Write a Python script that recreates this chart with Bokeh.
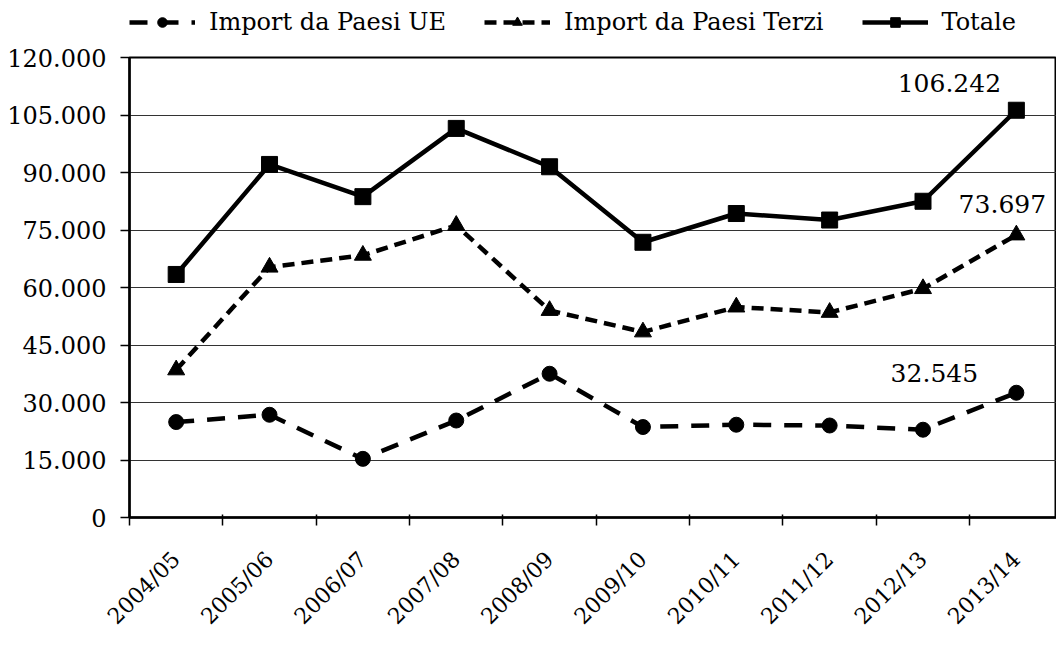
import math
from bokeh.plotting import figure
from bokeh.layouts import column
from bokeh.models import (ColumnDataSource, Range1d, FixedTicker, Legend, LegendItem)
from bokeh.core.properties import value
from bokeh.embed import file_html
from bokeh.resources import INLINE

categories = ["2004/05", "2005/06", "2006/07", "2007/08", "2008/09",
              "2009/10", "2010/11", "2011/12", "2012/13", "2013/14"]
ue = [24900, 26800, 15300, 25300, 37500, 23600, 24200, 24000, 22900, 32545]
terzi = [38500, 65300, 68400, 76200, 54000, 48400, 54900, 53500, 59700, 73697]
totale = [63400, 92100, 83700, 101500, 91500, 71800, 79300, 77600, 82500, 106242]

y_ticks = [0, 15000, 30000, 45000, 60000, 75000, 90000, 105000, 120000]
y_tick_labels = ["0", "15.000", "30.000", "45.000", "60.000", "75.000",
                 "90.000", "105.000", "120.000"]

FONT = "DejaVu Serif"

xs = list(range(len(categories)))
src = ColumnDataSource(dict(x=xs, ue=ue, terzi=terzi, totale=totale))

STYLES = [
    ("ue", "Import da Paesi UE", "18 13", "circle", 15),
    ("terzi", "Import da Paesi Terzi", "12 7", "triangle", 17),
    ("totale", "Totale", "solid", "square", 16),
]

# ---------- main chart ----------
p = figure(width=1056, height=600, output_backend="svg", toolbar_location=None,
           x_range=Range1d(-0.5, 9.43), y_range=Range1d(0, 120000),
           min_border_left=129, min_border_right=0, min_border_top=17,
           min_border_bottom=117)
p.background_fill_color = "white"
p.border_fill_color = "white"
p.outline_line_color = "black"
p.outline_line_width = 2

p.xaxis.ticker = FixedTicker(ticks=xs, minor_ticks=[i - 0.5 for i in range(len(categories) + 1)])
p.xaxis.major_label_overrides = {i: c for i, c in zip(xs, categories)}
p.xaxis.major_tick_in = 0
p.xaxis.major_tick_out = 0
p.xaxis.minor_tick_in = 3
p.xaxis.minor_tick_out = 8
p.xaxis.minor_tick_line_width = 1.5
p.xaxis.minor_tick_line_color = "black"
p.xaxis.axis_line_width = 2.5
p.xaxis.axis_line_color = "black"
p.xaxis.major_label_orientation = math.pi / 4
p.xaxis.major_label_text_font = FONT
p.xaxis.major_label_text_font_size = "22px"
p.xaxis.major_label_text_color = "black"
p.xaxis.major_label_standoff = 30

p.yaxis.ticker = FixedTicker(ticks=y_ticks)
p.yaxis.major_label_overrides = {t: l for t, l in zip(y_ticks, y_tick_labels)}
p.yaxis.minor_tick_line_color = None
p.yaxis.major_tick_in = 0
p.yaxis.major_tick_out = 9
p.yaxis.major_tick_line_width = 1.5
p.yaxis.major_tick_line_color = "black"
p.yaxis.axis_line_width = 2.5
p.yaxis.axis_line_color = "black"
p.yaxis.major_label_text_font = FONT
p.yaxis.major_label_text_font_size = "24px"
p.yaxis.major_label_text_color = "black"
p.yaxis.major_label_standoff = 14

p.xgrid.grid_line_color = None
p.ygrid.ticker = FixedTicker(ticks=y_ticks)
p.ygrid.grid_line_color = "#333333"
p.ygrid.grid_line_width = 1

for col, _, dash, marker, size in STYLES:
    p.line("x", col, source=src, line_color="black", line_width=4.5, line_dash=dash)
    p.scatter("x", col, source=src, marker=marker, size=size, color="black")

last = len(categories) - 1
lab_vals = [totale[last], terzi[last], ue[last]]
lab_src = ColumnDataSource(dict(
    x=[last, last, last],
    y=lab_vals,
    text=[f"{v:,.0f}".replace(",", ".") for v in lab_vals],
    xo=[-67, -14, -82],
    yo=[-27, -31, -20],
))
p.text("x", "y", text="text", source=lab_src, x_offset="xo", y_offset="yo",
       text_font=value(FONT), text_font_size="25px", text_color="black",
       text_align="center", text_baseline="middle")

# ---------- legend strip (same data, drawn off-range so only the legend shows) ----------
lf = figure(width=1056, height=40, output_backend="svg", toolbar_location=None,
            x_range=Range1d(0, 1), y_range=Range1d(0, 1), min_border=0)
lf.axis.visible = False
lf.grid.grid_line_color = None
lf.outline_line_color = None
lf.background_fill_color = "white"
lf.border_fill_color = "white"

items = []
for col, label, dash, marker, size in STYLES:
    r1 = lf.line("x", col, source=src, line_color="black", line_width=4.5, line_dash=dash)
    r2 = lf.scatter("x", col, source=src, marker=marker, size=size * 0.9, color="black")
    items.append(LegendItem(label=label, renderers=[r1, r2]))

legend = Legend(items=items, orientation="horizontal", location=(0, 4))
legend.label_text_font = FONT
legend.label_text_font_size = "24px"
legend.label_text_color = "black"
legend.glyph_width = 66
legend.glyph_height = 24
legend.label_height = 24
legend.label_standoff = 14
legend.spacing = 38
legend.padding = 4
legend.margin = 0
legend.border_line_color = None
legend.background_fill_alpha = 0
lf.add_layout(legend, "center")

layout = column(lf, p, spacing=0)
open("out.html", "w").write(file_html(layout, INLINE))
